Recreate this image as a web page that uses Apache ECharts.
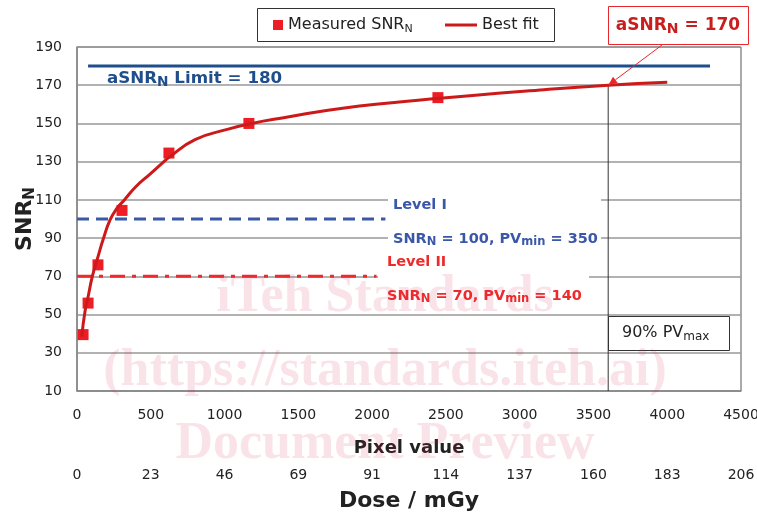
<!DOCTYPE html>
<html>
<head>
<meta charset="utf-8">
<script src="https://cdn.jsdelivr.net/npm/echarts@6/dist/echarts.min.js"></script>
<style>
  html, body { margin: 0; padding: 0; background: #fff; }
  #chart { width: 757px; height: 514px; }
</style>
</head>
<body>
<div id="chart"></div>
<script>
// measured points (pixel value, SNR_N)
const measuredPV = [41, 75, 142, 305, 623, 1165, 2446];
const measuredSNR = [39.5, 56, 76, 104.5, 134.5, 150, 163.5];
// best fit curve
const fitPV = [32, 55, 77, 104, 145, 178, 224, 270, 321, 400, 495, 574, 619, 800, 1025, 1184, 1400, 1800, 2440, 3138, 3600, 4000];
const fitSNR = [38.5, 52, 60, 70, 81, 89.5, 99.5, 105.5, 110, 117, 123.5, 129, 132, 141.5, 147, 150, 153, 158, 163, 167.5, 170, 171.5];
// reference lines
const limitPV = [75, 4290];
const limitSNR = 180;
const level1PV = [0, 2090];
const level1SNR = 100;
const level2PV = [0, 2030];
const level2SNR = 70;
const pvMax90 = 3600;
const asnrValue = 170;
// second axis tick labels (dose, mGy)
const doseTicks = ['0', '23', '46', '69', '91', '114', '137', '160', '183', '206'];

const FONT = 'DejaVu Sans';
const zip = (xs, ys) => xs.map((x, i) => [x, ys[i]]);

let chart = echarts.init(document.getElementById('chart'));

let option = {
  backgroundColor: '#fff',
  animation: false,
  textStyle: { fontFamily: FONT },
  grid: {
    left: 77, right: 16, top: 47, bottom: 123,
    outerBoundsMode: 'none', containLabel: false,
    show: true, borderColor: '#555', borderWidth: 1, backgroundColor: '#fff'
  },
  legend: [
    {
      left: 273, top: 17, padding: 0,
      itemWidth: 10, itemHeight: 10,
      data: [{ name: 'Measured', icon: 'path://M0,0H10V10H0Z' }],
      formatter: () => '{t|Measured SNR}{s|N}',
      textStyle: {
        color: '#222',
        rich: {
          t: { fontSize: 16, fontFamily: FONT, color: '#222' },
          s: { fontSize: 11, fontFamily: FONT, color: '#222', padding: [8, 0, 0, 0] }
        }
      }
    },
    {
      left: 445, top: 17, padding: 0,
      itemWidth: 32, itemHeight: 10,
      data: [{ name: 'Best fit', icon: 'path://M0,0H32V3H0Z' }],
      textStyle: { color: '#222', fontSize: 16, fontFamily: FONT }
    }
  ],
  xAxis: [
    {
      type: 'value', min: 0, max: 4500, interval: 500,
      axisLine: { show: true, lineStyle: { color: '#888', width: 1.5 } },
      axisTick: { show: false },
      splitLine: { show: false },
      axisLabel: { color: '#222', fontSize: 14, margin: 17, fontFamily: FONT, formatter: v => String(v) },
      name: 'Pixel value', nameLocation: 'middle', nameGap: 48,
      nameTextStyle: { fontSize: 18, fontWeight: 'bold', color: '#222', fontFamily: FONT }
    },
    {
      type: 'value', min: 0, max: 4500, interval: 500, position: 'bottom', offset: 60,
      axisLine: { show: false },
      axisTick: { show: false },
      splitLine: { show: false },
      axisLabel: {
        color: '#222', fontSize: 14, margin: 17, fontFamily: FONT,
        formatter: function (v) { return doseTicks[Math.round(v / 500)]; }
      },
      name: 'Dose / mGy', nameLocation: 'middle', nameGap: 39,
      nameTextStyle: { fontSize: 22, fontWeight: 'bold', color: '#222', fontFamily: FONT }
    }
  ],
  yAxis: {
    type: 'value', min: 10, max: 190, interval: 20,
    axisLine: { show: true, lineStyle: { color: '#888', width: 1.5 } },
    axisTick: { show: false },
    splitLine: { show: true, lineStyle: { color: '#999', width: 1.5 } },
    axisLabel: { color: '#222', fontSize: 14, margin: 15, fontFamily: FONT, formatter: v => String(v) },
    name: '{a|SNR}{b|N}', nameLocation: 'middle', nameGap: 39, nameRotate: 90,
    nameMoveOverlap: false,
    nameTextStyle: {
      rich: {
        a: { fontSize: 22, fontWeight: 'bold', color: '#222', fontFamily: FONT },
        b: { fontSize: 15, fontWeight: 'bold', color: '#222', fontFamily: FONT, padding: [10, 0, 0, 0] }
      }
    }
  },
  series: [
    {
      name: 'limit', type: 'line', silent: true, symbol: 'none',
      data: limitPV.map(x => [x, limitSNR]),
      lineStyle: { color: '#1f4e8c', width: 3 }, z: 2
    },
    {
      name: 'level1', type: 'line', silent: true, symbol: 'none',
      data: level1PV.map(x => [x, level1SNR]),
      lineStyle: { color: '#3b58a8', width: 3, type: [12, 7] }, z: 2
    },
    {
      name: 'level2', type: 'line', silent: true, symbol: 'none',
      data: level2PV.map(x => [x, level2SNR]),
      lineStyle: { color: '#ee2a2a', width: 3, type: [15, 7, 4, 7] }, z: 2
    },
    {
      name: 'pvmax', type: 'line', silent: true, symbol: 'none',
      data: [[pvMax90, 10], [pvMax90, asnrValue]],
      lineStyle: { color: '#333', width: 1 }, z: 2
    },
    {
      name: 'Measured', type: 'scatter', symbol: 'rect', symbolSize: 11,
      data: zip(measuredPV, measuredSNR),
      itemStyle: { color: '#ee1c24', opacity: 1 }, z: 3
    },
    {
      name: 'Best fit', type: 'line', symbol: 'none', smooth: true,
      data: zip(fitPV, fitSNR),
      itemStyle: { color: '#cc1a1a' },
      lineStyle: { color: '#cc1a1a', width: 3 }, z: 4
    }
  ]
};

chart.setOption(option);

// annotations
const tip = chart.convertToPixel({ xAxisIndex: 0, yAxisIndex: 0 }, [pvMax90, asnrValue]);
const from = [662, 45];
const ang = Math.atan2(tip[1] - from[1], tip[0] - from[0]);
const ah = 9, aw = 4;
const bx = tip[0] - ah * Math.cos(ang), by = tip[1] - ah * Math.sin(ang);
const arrowHead = [
  tip,
  [bx + aw * Math.sin(ang), by - aw * Math.cos(ang)],
  [bx - aw * Math.sin(ang), by + aw * Math.cos(ang)]
];

const blue = '#3b58a8', red = '#ee2a2a', dark = '#1f4e8c';
const richSub = (c, size) => ({
  m: { fontSize: size, fontWeight: 'bold', fill: c, fontFamily: FONT },
  s: { fontSize: size - 3, fontWeight: 'bold', fill: c, fontFamily: FONT, padding: [6, 0, 0, 0] }
});

chart.setOption({
  graphic: [
    // legend frame
    { type: 'rect', shape: { x: 257.5, y: 8.5, width: 297, height: 33 }, style: { fill: 'none', stroke: '#333', lineWidth: 1 }, z: 60 },
    { type: 'rect', shape: { x: 388, y: 194, width: 213, height: 56 }, style: { fill: '#fff' }, z: 50 },
    { type: 'rect', shape: { x: 378, y: 251, width: 211, height: 55 }, style: { fill: '#fff' }, z: 50 },
    {
      type: 'text', x: 107, y: 79, z: 60,
      style: { text: '{m|aSNR}{s|N}{m| Limit = 180}', rich: richSub(dark, 16.7), verticalAlign: 'middle' }
    },
    {
      type: 'text', x: 393, y: 205, z: 60,
      style: { text: 'Level I', fontSize: 14.5, fontWeight: 'bold', fill: blue, fontFamily: FONT, verticalAlign: 'middle' }
    },
    {
      type: 'text', x: 393, y: 239, z: 60,
      style: { text: '{m|SNR}{s|N}{m| = 100, PV}{s|min}{m| = 350}', rich: richSub(blue, 14.5), verticalAlign: 'middle' }
    },
    {
      type: 'text', x: 387, y: 262, z: 60,
      style: { text: 'Level II', fontSize: 14.5, fontWeight: 'bold', fill: red, fontFamily: FONT, verticalAlign: 'middle' }
    },
    {
      type: 'text', x: 387, y: 296, z: 60,
      style: { text: '{m|SNR}{s|N}{m| = 70, PV}{s|min}{m| = 140}', rich: richSub(red, 14.5), verticalAlign: 'middle' }
    },
    // aSNR = 170 callout
    { type: 'rect', shape: { x: 608.5, y: 6.5, width: 140, height: 38 }, style: { fill: '#fff', stroke: '#e8262b', lineWidth: 1 }, z: 60 },
    {
      type: 'text', x: 678, y: 26, z: 61,
      style: { text: '{m|aSNR}{s|N}{m| = 170}', rich: richSub('#c81e1e', 17), align: 'center', verticalAlign: 'middle' }
    },
    { type: 'line', shape: { x1: from[0], y1: from[1], x2: bx, y2: by }, style: { stroke: '#e8262b', lineWidth: 1 }, z: 61 },
    { type: 'polygon', shape: { points: arrowHead }, style: { fill: '#e8262b' }, z: 61 },
    // 90% PVmax box
    { type: 'rect', shape: { x: 608.5, y: 316.5, width: 121, height: 34 }, style: { fill: '#fff', stroke: '#333', lineWidth: 1 }, z: 60 },
    {
      type: 'text', x: 622, y: 333, z: 61,
      style: {
        text: '{m|90% PV}{s|max}', verticalAlign: 'middle',
        rich: {
          m: { fontSize: 16, fill: '#222', fontFamily: FONT },
          s: { fontSize: 12, fill: '#222', fontFamily: FONT, padding: [8, 0, 0, 0] }
        }
      }
    },
    // watermark
    {
      type: 'text', x: 385, y: 298, z: 100, silent: true,
      style: { text: 'iTeh Standards', font: 'bold 52px "Liberation Serif"', fill: 'rgba(214,40,80,0.13)', align: 'center', verticalAlign: 'middle' }
    },
    {
      type: 'text', x: 385, y: 372, z: 100, silent: true,
      style: { text: '(https://standards.iteh.ai)', font: 'bold 52px "Liberation Serif"', fill: 'rgba(214,40,80,0.13)', align: 'center', verticalAlign: 'middle' }
    },
    {
      type: 'text', x: 385, y: 445, z: 100, silent: true,
      style: { text: 'Document Preview', font: 'bold 52px "Liberation Serif"', fill: 'rgba(214,40,80,0.13)', align: 'center', verticalAlign: 'middle' }
    }
  ]
});
</script>
</body>
</html>
